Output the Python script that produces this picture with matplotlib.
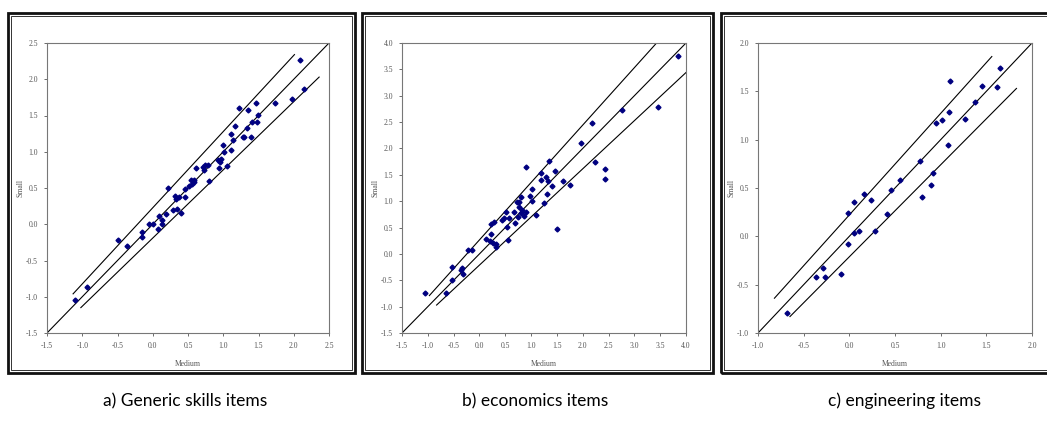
"""Medium vs Small item estimates, three panels with confidence bands."""

import matplotlib.pyplot as plt
from matplotlib.patches import Rectangle

W, H = 1047, 424

# a) Generic skills items
gen_medium = [-1.10, -0.93, -0.50, -0.37, -0.15, -0.15, -0.06, 0.00, 0.07, 0.09,
              0.13, 0.13, 0.19, 0.21, 0.29, 0.32, 0.33, 0.35, 0.37, 0.40,
              0.46, 0.46, 0.52, 0.54, 0.55, 0.58, 0.59, 0.62, 0.71, 0.72,
              0.74, 0.78, 0.80, 0.93, 0.94, 0.96, 0.97, 1.00, 1.01, 1.05,
              1.11, 1.11, 1.14, 1.16, 1.23, 1.28, 1.30, 1.33, 1.35, 1.39,
              1.41, 1.46, 1.48, 1.49, 1.73, 1.98, 2.09, 2.15]
gen_small = [-1.04, -0.87, -0.22, -0.30, -0.11, -0.18, 0.01, 0.01, -0.07, 0.11,
             0.06, 0.01, 0.14, 0.50, 0.19, 0.39, 0.35, 0.21, 0.38, 0.16,
             0.38, 0.48, 0.53, 0.61, 0.55, 0.58, 0.61, 0.78, 0.79, 0.75,
             0.82, 0.82, 0.59, 0.88, 0.78, 0.86, 0.90, 1.09, 0.99, 0.80,
             1.03, 1.24, 1.16, 1.35, 1.60, 1.20, 1.20, 1.33, 1.57, 1.21,
             1.41, 1.67, 1.41, 1.51, 1.67, 1.73, 2.27, 1.86]
gen_upper_x, gen_upper_y = [-1.13, 2.01], [-0.96, 2.34]
gen_lower_x, gen_lower_y = [-1.02, 2.36], [-1.15, 2.03]
gen_ticks = [-1.5, -1.0, -0.5, 0.0, 0.5, 1.0, 1.5, 2.0, 2.5]

# b) economics items
eco_medium = [-1.05, -0.65, -0.54, -0.54, -0.36, -0.34, -0.31, -0.23, -0.15, 0.13,
              0.20, 0.22, 0.22, 0.28, 0.26, 0.32, 0.32, 0.44, 0.48, 0.51,
              0.54, 0.55, 0.58, 0.67, 0.68, 0.72, 0.74, 0.76, 0.77, 0.80,
              0.80, 0.82, 0.86, 0.90, 0.90, 0.97, 1.02, 1.02, 1.10, 1.19,
              1.20, 1.25, 1.28, 1.31, 1.32, 1.35, 1.41, 1.46, 1.51, 1.61,
              1.76, 1.97, 2.18, 2.24, 2.43, 2.43, 2.77, 3.46, 3.85]
eco_small = [-0.75, -0.74, -0.24, -0.50, -0.31, -0.26, -0.39, 0.07, 0.07, 0.28,
             0.25, 0.38, 0.57, 0.61, 0.21, 0.19, 0.14, 0.65, 0.69, 0.80,
             0.51, 0.27, 0.69, 0.80, 0.59, 0.98, 0.70, 0.98, 0.89, 1.07,
             0.78, 0.84, 0.72, 1.65, 0.79, 1.09, 1.00, 1.23, 0.74, 1.53,
             1.41, 0.97, 1.46, 1.14, 1.38, 1.76, 1.29, 1.58, 0.47, 1.39,
             1.30, 2.10, 2.48, 1.74, 1.61, 1.43, 2.72, 2.79, 3.76]
eco_upper_x, eco_upper_y = [-0.97, 3.43], [-0.79, 4.0]
eco_lower_x, eco_lower_y = [-0.83, 4.0], [-0.97, 3.44]
eco_ticks = [-1.5, -1.0, -0.5, 0.0, 0.5, 1.0, 1.5, 2.0, 2.5, 3.0, 3.5, 4.0]

# c) engineering items
eng_medium = [-0.68, -0.36, -0.29, -0.27, -0.09, -0.01, -0.01, 0.05, 0.05, 0.11,
              0.16, 0.24, 0.28, 0.41, 0.46, 0.56, 0.77, 0.80, 0.89, 0.92,
              0.95, 1.02, 1.08, 1.09, 1.10, 1.27, 1.38, 1.45, 1.62, 1.65]
eng_small = [-0.79, -0.42, -0.33, -0.42, -0.39, 0.24, -0.08, 0.36, 0.03, 0.06,
             0.44, 0.38, 0.06, 0.23, 0.48, 0.58, 0.78, 0.41, 0.53, 0.66,
             1.17, 1.20, 0.94, 1.29, 1.61, 1.21, 1.39, 1.56, 1.54, 1.74]
eng_upper_x, eng_upper_y = [-0.82, 1.56], [-0.64, 1.86]
eng_lower_x, eng_lower_y = [-0.65, 1.83], [-0.83, 1.53]
eng_ticks = [-1.0, -0.5, 0.0, 0.5, 1.0, 1.5, 2.0]

captions = ["a) Generic skills items", "b) economics items", "c) engineering items"]


def px_box(left, top, right, bottom):
    """Pixel box (from top-left) -> figure fraction [l, b, w, h]."""
    return [left / W, 1 - bottom / H, (right - left) / W, (bottom - top) / H]


fig = plt.figure(figsize=(W / 100, H / 100), dpi=100)

panels = [
    dict(med=gen_medium, sml=gen_small, ux=gen_upper_x, uy=gen_upper_y,
         lx=gen_lower_x, ly=gen_lower_y, ticks=gen_ticks,
         axbox=(47, 43, 329, 333), frame=(8, 13, 355, 373), cap_x=185),
    dict(med=eco_medium, sml=eco_small, ux=eco_upper_x, uy=eco_upper_y,
         lx=eco_lower_x, ly=eco_lower_y, ticks=eco_ticks,
         axbox=(402, 43, 686, 333), frame=(362, 13, 713, 373), cap_x=535),
    dict(med=eng_medium, sml=eng_small, ux=eng_upper_x, uy=eng_upper_y,
         lx=eng_lower_x, ly=eng_lower_y, ticks=eng_ticks,
         axbox=(758, 43, 1032, 333), frame=(721, 13, 1072, 373), cap_x=905),
]

for p, cap in zip(panels, captions):
    # double frame around each chart
    fl, ft, fr, fb = p["frame"]
    fig.add_artist(Rectangle((fl / W, 1 - fb / H), (fr - fl) / W, (fb - ft) / H,
                             transform=fig.transFigure, fill=False,
                             edgecolor="#111111", linewidth=2.0))
    fig.add_artist(Rectangle(((fl + 3) / W, 1 - (fb - 3) / H), (fr - fl - 6) / W,
                             (fb - ft - 6) / H, transform=fig.transFigure,
                             fill=False, edgecolor="#333333", linewidth=0.7))

    ax = fig.add_axes(px_box(*p["axbox"]))
    lo, hi = p["ticks"][0], p["ticks"][-1]
    ax.plot([lo, hi], [lo, hi], color="black", linewidth=0.8)
    ax.plot(p["ux"], p["uy"], color="black", linewidth=0.8)
    ax.plot(p["lx"], p["ly"], color="black", linewidth=0.8)
    ax.plot(p["med"], p["sml"], linestyle="none", marker="D", markersize=2.5,
            color="#000080", zorder=3)

    ax.set_xlim(lo, hi)
    ax.set_ylim(lo, hi)
    ax.set_xticks(p["ticks"])
    ax.set_yticks(p["ticks"])
    ax.set_xticklabels([f"{t:.1f}" for t in p["ticks"]])
    ax.set_yticklabels([f"{t:.1f}" for t in p["ticks"]])
    ax.tick_params(direction="out", length=2.5, width=0.6, color="#555555",
                   labelsize=5.5, labelcolor="#555555", pad=4)
    for lab in ax.get_xticklabels() + ax.get_yticklabels():
        lab.set_family("Liberation Serif")
    for s in ax.spines.values():
        s.set_color("#777777")
        s.set_linewidth(0.8)
    ax.set_xlabel("Medium", fontsize=5.5, family="Liberation Serif",
                  color="#555555", labelpad=7)
    ax.set_ylabel("Small", fontsize=5.5, family="Liberation Serif",
                  color="#555555", labelpad=1)

    fig.text(p["cap_x"] / W, 1 - 401 / H, cap, ha="center", va="center",
             fontsize=12.5, family="Lato", color="black")

fig.savefig("out.png", dpi=100)
plt.close(fig)
